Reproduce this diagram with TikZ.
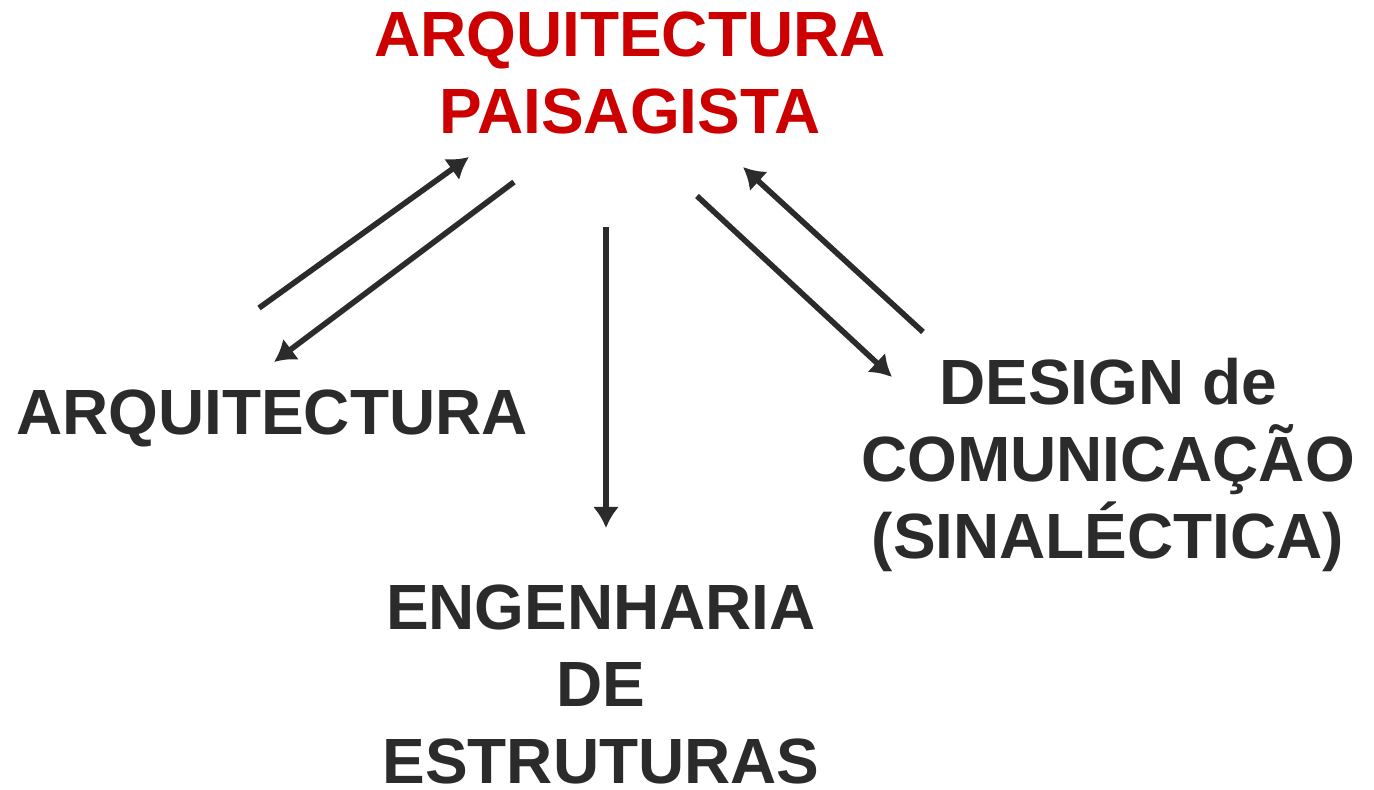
\documentclass[tikz,border=0pt]{standalone}
\usepackage{fontspec}
\setmainfont{Liberation Sans}
\usepackage{tikz}
\usetikzlibrary{arrows.meta}
\usetikzlibrary{positioning}
\definecolor{vermelho}{HTML}{CC0000}
\definecolor{cinza}{HTML}{2B2B2B}

\begin{document}
\begin{tikzpicture}[line cap=butt,line join=round, x=0.02cm,y=-0.02cm,
  titulo/.style={font=\fontsize{36.4}{43.7}\selectfont\bfseries, align=center, inner sep=0pt, anchor=base},
  flecha/.style={line width=3.2pt, cinza, -{Latex[length=12pt, width=15pt]}}]
\useasboundingbox (0,0) rectangle (1374,789);
% textos
\node [titulo, text=vermelho] (paisagista) at (630,133) {ARQUITECTURA\\PAISAGISTA};
\node [titulo, text=cinza] (arquitectura) at (272,434) {ARQUITECTURA};
\node [titulo, text=cinza] (engenharia) at (601,783) {ENGENHARIA\\DE\\ESTRUTURAS};
\node [titulo, text=cinza] (design) at (1108,558) {DESIGN de\\COMUNICAÇÃO\\(SINALÉCTICA)};
% pontas das setas
\coordinate (arqA) at (259,308);
\coordinate (paiA) at (469,157);
\coordinate (paiB) at (514,182);
\coordinate (arqB) at (274,362);
\coordinate (paiC) at (606,227);
\coordinate (engC) at (606,528);
\coordinate (paiD) at (697,196);
\coordinate (desD) at (892,377);
\coordinate (desE) at (923,332);
\coordinate (paiE) at (743,167);
\draw [flecha] (arqA) -- (paiA);
\draw [flecha] (paiB) -- (arqB);
\draw [flecha] (paiC) -- (engC);
\draw [flecha] (paiD) -- (desD);
\draw [flecha] (desE) -- (paiE);
\end{tikzpicture}
\end{document}
